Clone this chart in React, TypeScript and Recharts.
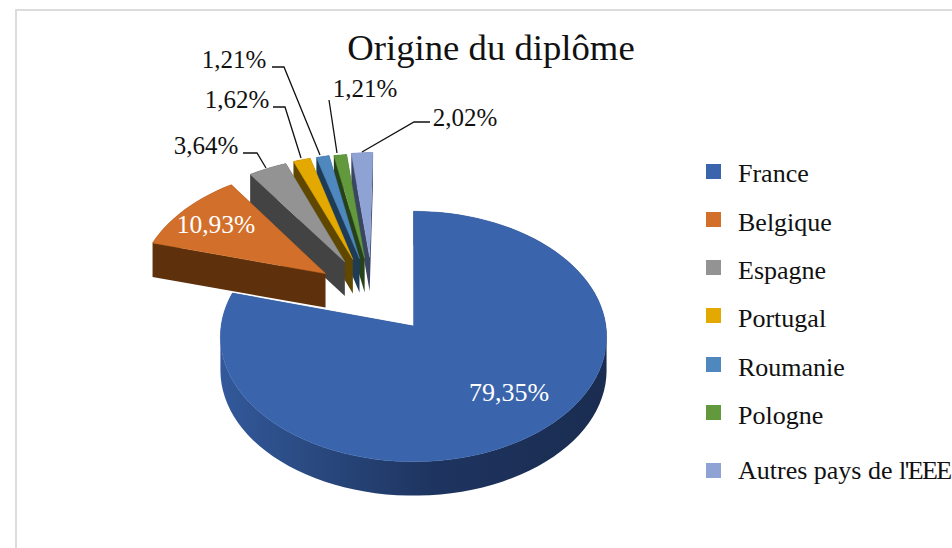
import { PieChart, Pie, Legend } from 'recharts';

const categories = ['France', 'Belgique', 'Espagne', 'Portugal', 'Roumanie', 'Pologne', "Autres pays de l'EEE"];
const shares = [79.35, 10.93, 3.64, 1.62, 1.21, 1.21, 2.02];
const colors = ['#3A64AC', '#D2702B', '#939393', '#E3A900', '#4E88BE', '#63993D', '#8FA2D4'];
const wallColors = ['url(#franceWall)', '#5E300B', '#434343', '#5F4700', '#1F3C57', '#27421A', '#3A4562'];

// the painter order needs the far slices first, so the pie runs backwards from 12 o'clock
const pieData = categories
  .map((name, i) => ({ name, value: shares[i], fill: colors[i], wall: wallColors[i], key: i }))
  .reverse();

const FONT = '"Liberation Serif", serif';
const DEPTH = 34;
const PERSPECTIVE = 0.0837;
const TILT = 0.646;

// exploded tip of each slice on the pie plane, in radii (x right, y away from viewer)
const tips = [
  [0, 0],
  [-0.474, 0.437],
  [-0.373, 0.539],
  [-0.33, 0.561],
  [-0.294, 0.569],
  [-0.266, 0.569],
  [-0.239, 0.58],
];

// label anchor and leader line per slice
const labelLayout: { x: number; y: number; size: number; color: string; line?: string }[] = [
  { x: 509, y: 401, size: 26, color: '#fff' },
  { x: 216, y: 233, size: 25.5, color: '#fff' },
  { x: 206, y: 154, size: 25, color: '#111', line: '243,153 257,153 266,168' },
  { x: 237, y: 108, size: 25, color: '#111', line: '273,107 285,107 301,158' },
  { x: 234, y: 68, size: 25, color: '#111', line: '272,67 284,67 320,155' },
  { x: 365, y: 97, size: 25, color: '#111', line: '329,100 337,153' },
  { x: 465, y: 126, size: 25, color: '#111', line: '430,122 414,122 362,152' },
];

const squareTops = [164, 212, 260, 308, 357, 405, 463];
const nameTops = [159, 208, 256, 304, 353, 401, 456];

const SliceShape = (props: any) => {
  const { cx, cy, outerRadius, startAngle, endAngle, fill, payload } = props;
  const index = payload?.key ?? props.key ?? 0;
  const [tipU, tipV] = tips[index];
  const project = (u: number, v: number) => {
    const s = 1 / (1 + PERSPECTIVE * v);
    return [cx + outerRadius * u * s, cy - outerRadius * TILT * v * s];
  };
  const lo = Math.min(startAngle, endAngle);
  const hi = Math.max(startAngle, endAngle);
  const steps = Math.max(4, Math.ceil((hi - lo) / 3));
  const pts = [project(tipU, tipV)];
  for (let i = 0; i <= steps; i++) {
    const a = ((lo + ((hi - lo) * i) / steps) * Math.PI) / 180;
    pts.push(project(tipU + Math.cos(a), tipV + Math.sin(a)));
  }
  // one path for the whole wall, every quad wound the same way so nothing cancels
  const wallPath = pts
    .map((p, i) => {
      const q = pts[(i + 1) % pts.length];
      const [a, b] = q[0] >= p[0] ? [p, q] : [q, p];
      return `M${a[0]},${a[1]}L${b[0]},${b[1]}L${b[0]},${b[1] + DEPTH}L${a[0]},${a[1] + DEPTH}Z`;
    })
    .join('');
  const wall = payload?.wall ?? props.wall;
  return (
    <g>
      {index === 0 && (
        <defs>
          <linearGradient id="franceWall" gradientUnits="userSpaceOnUse" x1="220" y1="0" x2="607" y2="0">
            <stop offset="0" stopColor="#33599B" />
            <stop offset="0.3" stopColor="#274579" />
            <stop offset="0.55" stopColor="#1E3460" />
            <stop offset="1" stopColor="#1A2C50" />
          </linearGradient>
        </defs>
      )}
      <path d={wallPath} fill={wall} />
      <polygon points={pts.map((p) => p.join(',')).join(' ')} fill={fill} stroke={fill} strokeWidth={0.5} />
    </g>
  );
};

const SliceLabel = (props: any) => {
  const index = props.payload?.key ?? props.key ?? 0;
  const spot = labelLayout[index];
  const text = Number(props.value).toFixed(2).replace('.', ',') + '%';
  return (
    <g>
      {spot.line && <polyline points={spot.line} fill="none" stroke="#111" strokeWidth={1.3} />}
      <text x={spot.x} y={spot.y} textAnchor="middle" fontFamily={FONT} fontSize={spot.size} fill={spot.color}>
        {text}
      </text>
    </g>
  );
};

const legendName = (name: string) => {
  const cut = name.indexOf("l'");
  if (cut < 0) return name;
  return (
    <>
      {name.slice(0, cut)}
      <span style={{ letterSpacing: -1.6 }}>{name.slice(cut)}</span>
    </>
  );
};

const LegendRows = () => (
  <div style={{ position: 'relative', width: 300, height: 548, fontFamily: FONT, fontSize: 26, color: '#111' }}>
    {categories.map((name, i) => (
      <div key={name}>
        <div style={{ position: 'absolute', left: 0, top: squareTops[i], width: 15, height: 15, background: colors[i] }} />
        <div style={{ position: 'absolute', left: 32, top: nameTops[i], lineHeight: '30px', whiteSpace: 'nowrap' }}>
          {legendName(name)}
        </div>
      </div>
    ))}
  </div>
);

export default function App() {
  return (
    <div style={{ position: 'absolute', left: 0, top: 0, width: 952, height: 548, overflow: 'hidden', background: '#fff' }}>
      <div style={{ position: 'absolute', left: 15, top: 9, width: 1000, height: 600, border: '2px solid #DCDCDC' }} />
      <PieChart width={952} height={548} margin={{ top: 0, right: 0, bottom: 0, left: 0 }}>
        <text x={491} y={60} textAnchor="middle" fontFamily={FONT} fontSize={36.7} fill="#111">
          Origine du diplôme
        </text>
        <Pie
          data={pieData}
          dataKey="value"
          nameKey="name"
          cx={413.5}
          cy={326}
          innerRadius={0}
          outerRadius={192.4}
          startAngle={90}
          endAngle={450}
          stroke="none"
          shape={SliceShape}
          label={SliceLabel}
          labelLine={false}
          isAnimationActive={false}
        />
        <Legend
          content={<LegendRows />}
          wrapperStyle={{ position: 'absolute', left: 706, top: 0, width: 300, height: 548, margin: 0 }}
        />
      </PieChart>
    </div>
  );
}
